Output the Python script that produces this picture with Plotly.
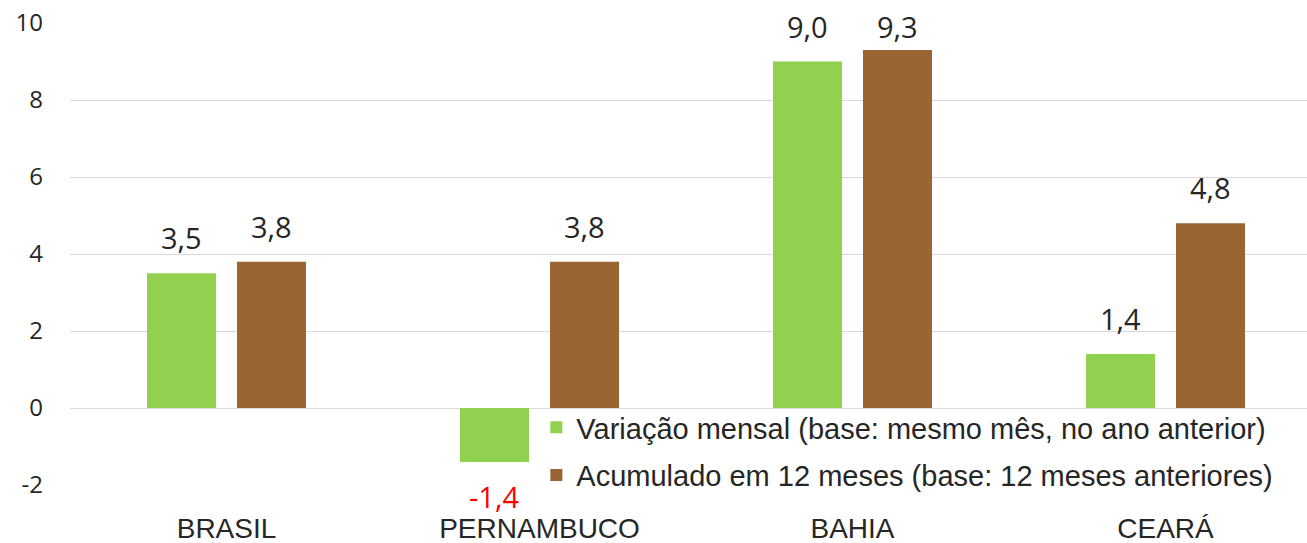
import plotly.graph_objects as go

categories = ["BRASIL", "PERNAMBUCO", "BAHIA", "CEARÁ"]
mensal = [3.5, -1.4, 9.0, 1.4]
acumulado = [3.8, 3.8, 9.3, 4.8]
name_mensal = "Variação mensal (base: mesmo mês, no ano anterior)"
name_acum = "Acumulado em 12 meses (base: 12 meses anteriores)"
y_ticks = [-2, 0, 2, 4, 6, 8, 10]
y_ticktext = [str(v) for v in y_ticks]

def fmt(v):
    return f"{v:.1f}".replace(".", ",")

label_font = "Open Sans, Noto Sans, sans-serif"
cat_font = "Liberation Sans, Arial, sans-serif"
text_col = "#262626"
label_cap = 9.0  # labels are kept inside the plot area, like the original

fig = go.Figure()
fig.add_trace(go.Bar(
    x=categories, y=mensal, name=name_mensal, legendgroup="a",
    marker=dict(color="#92d050", line=dict(width=0)),
))
fig.add_trace(go.Bar(
    x=categories, y=acumulado, name=name_acum, legendgroup="b",
    marker=dict(color="#996633", line=dict(width=0)),
))

offset_px = 45
for series, shift in ((mensal, -offset_px), (acumulado, offset_px)):
    for cat, v in zip(categories, series):
        neg = v < 0
        fig.add_annotation(
            x=cat, y=v if neg else min(v, label_cap), xref="x", yref="y",
            text=fmt(v), showarrow=False,
            xshift=shift - (1 if neg else 0), yshift=-13 if neg else 14,
            yanchor="top" if neg else "bottom",
            font=dict(size=29, family=label_font, color="#ff0000" if neg else text_col),
        )

fig.update_layout(
    width=1307, height=543,
    margin=dict(l=70, r=0, t=23, b=58),
    paper_bgcolor="white", plot_bgcolor="white",
    barmode="group", bargap=0.425, bargroupgap=0.233,
    showlegend=True,
    legend=dict(x=0.377, y=0.18, xanchor="left", yanchor="top",
                bgcolor="rgba(0,0,0,0)", font=dict(size=29, family=cat_font, color=text_col),
                tracegroupgap=7, itemwidth=30, traceorder="grouped"),
)
fig.update_xaxes(range=[-0.5, 3.452], showgrid=False, showline=False, ticks="",
                 tickfont=dict(size=28, family=cat_font, color=text_col),
                 ticklabelstandoff=24)
fig.update_yaxes(range=[-2, 10], tickvals=y_ticks, ticktext=y_ticktext,
                 showgrid=True, gridcolor="#d9d9d9",
                 gridwidth=1, zeroline=False, showline=False, ticks="",
                 tickfont=dict(size=24, family=label_font, color=text_col),
                 ticklabelstandoff=26)

fig.write_html("out.html", config={"displayModeBar": False},
               post_script="document.body.style.margin='0';")
